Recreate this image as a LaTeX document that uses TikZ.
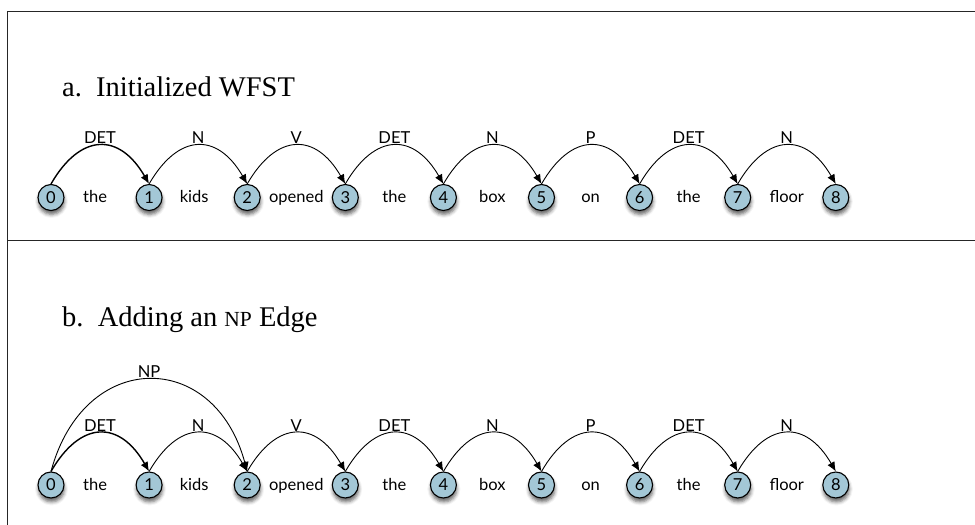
\documentclass[tikz,border=0pt]{standalone}
\usepackage{fontspec}
\setmainfont{Liberation Serif}
\setsansfont{Lato}
\usepackage{xcolor}
\usetikzlibrary{arrows.meta, positioning, shadows.blur}

\definecolor{statefill}{RGB}{163,199,214}

\begin{document}
\begin{tikzpicture}[
    x=1pt, y=1pt,
    node distance=71pt,
    state/.style={circle, draw=black, line width=1.1pt, fill=statefill, minimum size=26pt, inner sep=0pt, font=\sffamily\fontsize{16.5}{19}\selectfont, blur shadow={shadow xshift=0.5pt, shadow yshift=-4pt, shadow blur radius=3.5pt, shadow opacity=60}},
    word/.style={font=\sffamily\fontsize{16.5}{19}\selectfont, anchor=base, yshift=-5.5pt, inner sep=0pt},
    edge/.style={-{Latex[length=9.5pt,width=8pt]}, line width=0.9pt, out=60, in=120, looseness=1.55},
    lbl/.style={font=\sffamily\fontsize{16.5}{19}\selectfont, above, inner sep=1pt},
    title/.style={font=\fontsize{28.5}{34}\selectfont, anchor=base west, inner sep=0pt},
    frame/.style={line width=1pt, black!85}
]
    \useasboundingbox (0,0) rectangle (975,525);

    % Frame rules
    \draw [frame] (7,0) -- (7,513.5) -- (975,513.5);
    \draw [frame] (7,284) -- (975,284);

    % Panel a: initialized chart
    \node (a_title) [title] at (62,428) {a.\hspace{0.5em}Initialized WFST};
    \node (a0) [state] at (51,327.5) {0};
    \node (a1) [state, right=of a0] {1};
    \node (a2) [state, right=of a1] {2};
    \node (a3) [state, right=of a2] {3};
    \node (a4) [state, right=of a3] {4};
    \node (a5) [state, right=of a4] {5};
    \node (a6) [state, right=of a5] {6};
    \node (a7) [state, right=of a6] {7};
    \node (a8) [state, right=of a7] {8};

    \path (a0) -- node [word, xshift=-5pt] (a_w1) {the} (a1);
    \path (a1) -- node [word, xshift=-4pt] (a_w2) {kids} (a2);
    \path (a2) -- node [word] (a_w3) {opened} (a3);
    \path (a3) -- node [word] (a_w4) {the} (a4);
    \path (a4) -- node [word] (a_w5) {box} (a5);
    \path (a5) -- node [word] (a_w6) {on} (a6);
    \path (a6) -- node [word] (a_w7) {the} (a7);
    \path (a7) -- node [word] (a_w8) {floor} (a8);

    \draw [edge, line width=1.4pt] (a0.north) to node [lbl] {DET} (a1.north);
    \draw [edge] (a1.north) to node [lbl] {N} (a2.north);
    \draw [edge] (a2.north) to node [lbl] {V} (a3.north);
    \draw [edge] (a3.north) to node [lbl] {DET} (a4.north);
    \draw [edge] (a4.north) to node [lbl] {N} (a5.north);
    \draw [edge] (a5.north) to node [lbl] {P} (a6.north);
    \draw [edge] (a6.north) to node [lbl] {DET} (a7.north);
    \draw [edge] (a7.north) to node [lbl] {N} (a8.north);

    % Panel b: chart with the NP edge added
    \node (b_title) [title] at (62,198) {b.\hspace{0.5em}Adding an {\fontsize{21.5}{24}\selectfont NP} Edge};
    \node (b0) [state] at (51,40) {0};
    \node (b1) [state, right=of b0] {1};
    \node (b2) [state, right=of b1] {2};
    \node (b3) [state, right=of b2] {3};
    \node (b4) [state, right=of b3] {4};
    \node (b5) [state, right=of b4] {5};
    \node (b6) [state, right=of b5] {6};
    \node (b7) [state, right=of b6] {7};
    \node (b8) [state, right=of b7] {8};

    \path (b0) -- node [word, xshift=-5pt] (b_w1) {the} (b1);
    \path (b1) -- node [word, xshift=-4pt] (b_w2) {kids} (b2);
    \path (b2) -- node [word] (b_w3) {opened} (b3);
    \path (b3) -- node [word] (b_w4) {the} (b4);
    \path (b4) -- node [word] (b_w5) {box} (b5);
    \path (b5) -- node [word] (b_w6) {on} (b6);
    \path (b6) -- node [word] (b_w7) {the} (b7);
    \path (b7) -- node [word] (b_w8) {floor} (b8);

    \draw [edge, line width=1.4pt] (b0.north) to node [lbl] {DET} (b1.north);
    \draw [edge] (b1.north) to node [lbl] {N} (b2.north);
    \draw [edge] (b2.north) to node [lbl] {V} (b3.north);
    \draw [edge] (b3.north) to node [lbl] {DET} (b4.north);
    \draw [edge] (b4.north) to node [lbl] {N} (b5.north);
    \draw [edge] (b5.north) to node [lbl] {P} (b6.north);
    \draw [edge] (b6.north) to node [lbl] {DET} (b7.north);
    \draw [edge] (b7.north) to node [lbl] {N} (b8.north);
    \draw [edge, out=75, in=105, looseness=1.66] (b0.north) to node [lbl] {NP} (b2.north);
\end{tikzpicture}
\end{document}
